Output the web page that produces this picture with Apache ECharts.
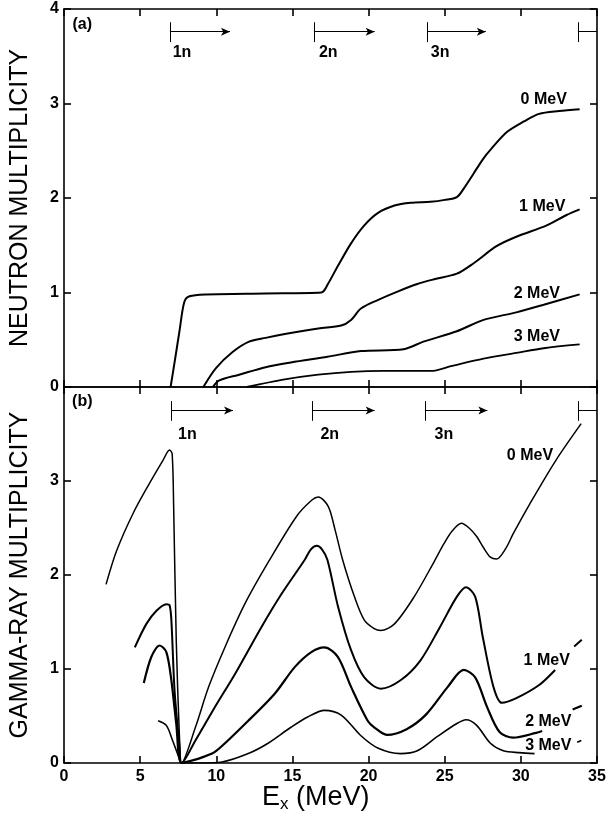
<!DOCTYPE html>
<html>
<head>
<meta charset="utf-8">
<script src="https://cdn.jsdelivr.net/npm/echarts@6/dist/echarts.min.js"></script>
<style>
    html, body {margin: 0; padding: 0; background: #fff;}
    #box {width: 611px; height: 817px;}
</style>
</head>
<body>
<div id="box"></div>
<script>
/*数据 (a) 中子多重性, [Ex, M]*/
var neutron0 = [[7.0, 0], [7.3, 0.3], [7.59, 0.6], [7.9, 0.9], [8.24, 0.96], [9.33, 0.98], [13.2, 0.99], [16.9, 1.0], [17.33, 1.09], [17.98, 1.28], [18.85, 1.52], [19.72, 1.71], [20.6, 1.84], [21.7, 1.92], [22.77, 1.95], [24.07, 1.96], [25.0, 1.98], [25.8, 2.01], [26.25, 2.10], [26.9, 2.26], [27.55, 2.42], [28.0, 2.51], [29.1, 2.70], [30.2, 2.81], [31.2, 2.89], [32.5, 2.92], [33.86, 2.94]];
var neutron1 = [[9.15, 0], [9.98, 0.20], [11.07, 0.37], [12.15, 0.48], [13.24, 0.52], [14.5, 0.56], [16.7, 0.62], [18.2, 0.65], [18.85, 0.71], [19.5, 0.83], [20.6, 0.92], [21.9, 1.01], [23.2, 1.09], [24.3, 1.14], [25.8, 1.20], [26.9, 1.31], [28.4, 1.49], [29.7, 1.59], [31.7, 1.71], [33.0, 1.82], [33.86, 1.88]];
var neutron2 = [[9.77, 0], [10.2, 0.07], [11.5, 0.13], [13.24, 0.21], [14.9, 0.26], [17.3, 0.32], [19.5, 0.38], [22.3, 0.40], [23.6, 0.48], [25.8, 0.59], [27.55, 0.71], [29.7, 0.79], [31.5, 0.87], [33.86, 0.98]];
var neutron3 = [[12.0, 0], [14.5, 0.08], [16.7, 0.13], [18.85, 0.16], [21.0, 0.17], [24.1, 0.17], [25.4, 0.22], [27.55, 0.30], [29.7, 0.36], [31.5, 0.41], [33.86, 0.45]];

/*数据 (b) gamma 多重性, '-' 是标签处断开*/
var gamma0 = [[2.76, 1.90], [3.46, 2.26], [4.55, 2.66], [5.63, 2.98], [6.5, 3.22], [6.93, 3.33], [7.1, 3.29], [7.2, 2.73], [7.37, 1.31], [7.59, 0.24], [7.72, 0], [8.63, 0.38], [9.5, 0.81], [10.59, 1.24], [11.9, 1.70], [13.5, 2.16], [15.3, 2.63], [16.3, 2.80], [16.7, 2.83], [17.35, 2.73], [17.8, 2.48], [18.3, 2.16], [19.07, 1.77], [19.72, 1.52], [20.37, 1.43], [20.8, 1.41], [21.7, 1.48], [23.0, 1.77], [24.3, 2.14], [24.94, 2.33], [25.5, 2.47], [26.1, 2.55], [26.6, 2.50], [27.1, 2.41], [27.55, 2.29], [28.0, 2.19], [28.4, 2.17], [29.0, 2.28], [29.5, 2.44], [30.6, 2.76], [32.3, 3.22], [33.96, 3.61]];
var gamma1 = [[4.65, 1.23], [5.41, 1.48], [6.07, 1.62], [6.72, 1.69], [6.93, 1.68], [7.05, 1.52], [7.26, 0.77], [7.59, 0.17], [7.72, 0], [8.63, 0.24], [9.93, 0.60], [11.24, 0.95], [12.98, 1.45], [14.29, 1.80], [15.8, 2.16], [16.2, 2.27], [16.6, 2.31], [16.95, 2.27], [17.3, 2.16], [18.0, 1.66], [18.85, 1.20], [19.72, 0.91], [20.8, 0.79], [22.1, 0.88], [23.4, 1.09], [24.7, 1.45], [25.8, 1.77], [26.4, 1.87], [27.0, 1.77], [27.5, 1.34], [28.2, 0.81], [28.75, 0.64], [29.7, 0.69], [31.2, 0.83], [32.25, 0.99], [32.9, '-'], [33.5, 1.24], [34.0, 1.31]];
var gamma2 = [[5.24, 0.85], [5.74, 1.13], [6.28, 1.25], [6.72, 1.18], [7.05, 0.88], [7.37, 0.42], [7.72, 0], [8.5, 0.03], [9.07, 0.06], [9.93, 0.12], [12.1, 0.45], [13.85, 0.74], [15.15, 1.02], [16.24, 1.18], [17.1, 1.23], [17.98, 1.13], [18.85, 0.81], [19.94, 0.45], [20.37, 0.38], [21.2, 0.30], [22.5, 0.36], [23.8, 0.52], [25.2, 0.81], [26.25, 0.99], [27.0, 0.91], [27.77, 0.60], [28.6, 0.33], [29.5, 0.27], [31.0, 0.32], [31.4, 0.34], [32.4, '-'], [33.4, 0.57], [34.0, 0.61]];
var gamma3 = [[6.18, 0.45], [6.72, 0.40], [7.13, 0.24], [7.59, 0.04], [7.72, 0], [9.0, 0], [10.37, 0.01], [12.1, 0.10], [13.4, 0.21], [14.9, 0.38], [16.0, 0.49], [17.1, 0.56], [18.2, 0.51], [19.5, 0.29], [20.6, 0.16], [22.1, 0.10], [23.2, 0.13], [24.5, 0.28], [25.8, 0.42], [26.4, 0.46], [27.1, 0.40], [28.0, 0.21], [28.85, 0.13], [29.9, 0.11], [30.9, 0.10], [32.3, '-'], [33.7, 0.22], [33.97, 0.24]];

/*阈值箭头 1n 2n 3n*/
var threshNames = ['1n', '2n', '3n', ''];
var threshA = [6.96, 16.43, 23.88, 33.8];
var arrowEndA = [10.9, 20.4, 27.7, 35];
var threshB = [7.07, 16.33, 23.7, 33.8];
var arrowEndB = [11.1, 20.4, 27.8, 35];
var threshLabelXA = [7.75, 17.35, 24.7];
var threshLabelXB = [8.1, 17.45, 24.95];

/*曲线标签*/
var curveNames = ['0 MeV', '1 MeV', '2 MeV', '3 MeV'];
var labelPosA = [[31.5, 3.04], [31.4, 1.91], [31.05, 0.99], [31.05, 0.53]];
var labelPosB = [[30.6, 3.27], [31.7, 1.09], [31.8, 0.44], [31.8, 0.19]];

var xTicks = [0, 5, 10, 15, 20, 25, 30, 35];
var yTicks = [0, 1, 2, 3, 4];

var font = 'Liberation Sans, Arial, Helvetica, sans-serif';

var xAxisOf = function (grid, pos, showLabel) {
    return {
        type: 'value', gridIndex: grid, position: pos,
        min: xTicks[0], max: xTicks[xTicks.length - 1], interval: 5,
        axisLine: {show: true, onZero: false, lineStyle: {color: '#000', width: 1.6}},
        axisTick: {show: true, inside: true, length: 7, lineStyle: {color: '#000', width: 1.6}},
        axisLabel: {show: showLabel, color: '#000', fontSize: 16, fontWeight: 'bold', fontFamily: font, margin: 6},
        splitLine: {show: false}
    };
};
var yAxisOf = function (grid, pos, showLabel, name, hideTop) {
    return {
        type: 'value', gridIndex: grid, position: pos,
        min: yTicks[0], max: yTicks[yTicks.length - 1], interval: 1,
        name: name, nameLocation: 'middle', nameGap: 31,
        nameTextStyle: {color: '#000', fontSize: 25, fontFamily: font},
        axisLine: {show: true, onZero: false, lineStyle: {color: '#000', width: 1.6}},
        axisTick: {show: true, inside: true, length: 7, lineStyle: {color: '#000', width: 1.6}},
        axisLabel: {
            show: showLabel, color: '#000', fontSize: 16, fontWeight: 'bold', fontFamily: font, margin: 5,
            formatter: function (v) { return (hideTop && v === 4) ? '' : v; }
        },
        splitLine: {show: false}
    };
};

var curve = function (data, ax, w) {
    return {
        type: 'line', data: data, xAxisIndex: ax, yAxisIndex: ax,
        showSymbol: false, smooth: 0.3, connectNulls: false,
        lineStyle: {color: '#000', width: w}, silent: true
    };
};

var thresholds = function (starts, ends, ax, yArrow) {
    var lines = [];
    starts.forEach(function (x, i) {
        lines.push([{coord: [x, yArrow - 0.11], symbol: 'none'}, {coord: [x, yArrow + 0.1], symbol: 'none'}]);
        lines.push([{coord: [x, yArrow], symbol: 'none'},
            {coord: [ends[i], yArrow], symbol: threshNames[i] ? 'arrow' : 'none'}]);
    });
    return {
        type: 'line', data: [], xAxisIndex: ax, yAxisIndex: ax, silent: true,
        markLine: {
            silent: true, symbolSize: [6, 9], label: {show: false},
            lineStyle: {color: '#000', width: 1, type: 'solid'},
            emphasis: {disabled: true},
            data: lines
        }
    };
};

/*文字标签, scatter 默认 opacity 0.8 会让字变灰*/
var textSeries = function (items, ax, size) {
    return {
        type: 'scatter', data: items, xAxisIndex: ax, yAxisIndex: ax, symbolSize: 0, silent: true,
        itemStyle: {color: '#fff', opacity: 1},
        label: {
            show: true, position: 'inside', color: '#000', fontSize: size, fontWeight: 'bold', fontFamily: font,
            textBorderWidth: 0, textBorderColor: 'transparent',
            formatter: function (p) { return p.data[2]; }
        }
    };
};

var textsA = [[1.2, 3.84, '(a)']], textsB = [[1.2, 3.84, '(b)']];
curveNames.forEach(function (n, i) {
    textsA.push([labelPosA[i][0], labelPosA[i][1], n]);
    textsB.push([labelPosB[i][0], labelPosB[i][1], n]);
});
var threshTextA = [], threshTextB = [];
threshLabelXA.forEach(function (x, i) { threshTextA.push([x, 3.54, threshNames[i]]); });
threshLabelXB.forEach(function (x, i) { threshTextB.push([x, 3.49, threshNames[i]]); });

var myChart = echarts.init(document.getElementById('box'));
var options = {
    animation: false,
    backgroundColor: '#fff',
    grid: [
        {left: 62, right: 14, top: 9, height: 378},
        {left: 62, right: 14, top: 387, height: 376}
    ],
    xAxis: [
        xAxisOf(0, 'bottom', false),
        xAxisOf(0, 'top', false),
        xAxisOf(1, 'bottom', true),
        xAxisOf(1, 'top', false)
    ],
    yAxis: [
        yAxisOf(0, 'left', true, 'NEUTRON MULTIPLICITY', false),
        yAxisOf(0, 'right', false, '', false),
        yAxisOf(1, 'left', true, 'GAMMA-RAY MULTIPLICITY', true),
        yAxisOf(1, 'right', false, '', false)
    ],
    series: [
        curve(neutron0, 0, 2), curve(neutron1, 0, 2), curve(neutron2, 0, 2), curve(neutron3, 0, 1.8),
        curve(gamma0, 2, 1.5), curve(gamma1, 2, 2), curve(gamma2, 2, 2.2), curve(gamma3, 2, 1.6),
        thresholds(threshA, arrowEndA, 0, 3.76),
        thresholds(threshB, arrowEndB, 2, 3.75),
        textSeries(textsA, 0, 16), textSeries(textsB, 2, 16),
        textSeries(threshTextA, 0, 16), textSeries(threshTextB, 2, 16)
    ],
    graphic: [{
        type: 'text', left: 262, top: 784,
        style: {
            rich: {
                e: {fontSize: 27, fontFamily: font, fill: '#000'},
                s: {fontSize: 17, fontFamily: font, fill: '#000', padding: [14, 0, 0, 0]}
            },
            text: '{e|E}{s|x}{e| (MeV)}'
        }
    }]
};
myChart.setOption(options);
</script>
</body>
</html>
